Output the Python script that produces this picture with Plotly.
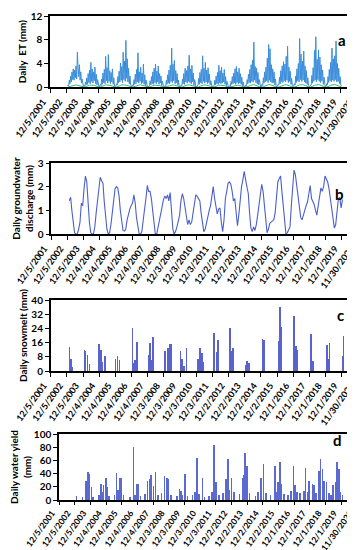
import pandas as pd
import plotly.graph_objects as go
from plotly.subplots import make_subplots

# ---------------- data ----------------
tick_labels = ["12/5/2001", "12/5/2002", "12/5/2003", "12/4/2004", "12/4/2005", "12/4/2006",
               "12/4/2007", "12/3/2008", "12/3/2009", "12/3/2010", "12/3/2011", "12/2/2012",
               "12/2/2013", "12/2/2014", "12/2/2015", "12/1/2016", "12/1/2017", "12/1/2018",
               "12/1/2019", "11/30/2020"]

# Daily ET (mm), semi-monthly readings 2003-2019 (24 per year)
et_values = [
    0.2,0.4,0.3,1.2,0.6,1.9,0.9,2.6,1.3,3.1,1.2,2.9,1.6,3.6,1.4,5.9,3.3,1.8,3.8,1.2,2.6,0.7,1.4,0.2,
    0.1,0.3,0.2,0.9,0.4,1.6,0.5,2.3,0.8,2.9,0.6,4.2,1.0,3.1,0.7,2.6,1.1,3.4,0.6,2.2,0.4,1.3,0.3,0.1,
    0.1,0.5,0.3,1.4,0.5,2.4,0.8,3.0,0.6,5.2,1.1,3.3,0.7,5.5,1.0,2.8,0.6,2.5,0.9,3.1,0.5,1.6,0.2,0.1,
    0.2,0.6,0.4,1.8,0.7,2.7,0.9,4.1,1.2,3.5,0.8,5.9,1.3,4.4,1.0,7.9,1.5,4.8,0.9,3.2,0.6,1.9,0.4,0.2,
    0.1,0.4,0.3,1.3,0.5,2.2,0.6,3.0,0.9,5.8,0.7,2.6,1.0,3.4,0.6,2.4,0.8,3.9,0.5,2.1,0.3,1.2,0.2,0.1,
    0.1,0.2,0.3,1.1,0.4,1.8,0.6,2.6,0.5,3.2,0.8,3.9,0.6,2.7,0.9,3.6,0.5,2.3,0.7,1.9,0.3,1.0,0.2,0.1,
    0.1,0.3,0.2,1.2,0.5,2.1,0.7,2.9,0.6,3.7,1.0,6.6,0.8,3.9,1.1,4.5,0.6,2.8,0.8,2.3,0.4,1.2,0.2,0.1,
    0.1,0.4,0.3,1.4,0.6,2.3,0.5,3.2,0.9,2.8,0.7,3.6,1.0,5.4,0.8,3.1,0.6,3.7,0.9,2.4,0.3,1.3,0.2,0.1,
    0.1,0.3,0.4,1.5,0.5,2.5,0.8,3.0,0.6,5.3,1.0,3.2,0.7,4.2,0.9,2.9,0.6,3.3,0.8,2.2,0.4,1.1,0.2,0.1,
    0.1,0.2,0.3,1.2,0.4,1.9,0.6,2.5,0.5,3.7,0.8,2.8,0.6,3.4,0.7,2.4,0.9,3.0,0.5,1.8,0.3,1.0,0.2,0.1,
    0.1,0.3,0.2,1.0,0.5,1.8,0.6,2.4,0.7,3.1,0.5,3.5,0.8,2.6,0.6,3.2,0.7,2.3,0.5,1.7,0.3,0.9,0.2,0.1,
    0.1,0.4,0.3,1.3,0.6,2.2,0.8,3.0,0.7,3.8,1.0,4.6,0.9,7.6,1.2,3.5,0.8,3.2,0.6,2.5,0.4,1.3,0.2,0.1,
    0.1,0.5,0.3,1.6,0.7,2.6,0.9,3.4,1.1,4.9,0.8,7.2,1.2,6.5,0.9,3.8,0.7,3.1,0.8,2.6,0.4,1.4,0.2,0.1,
    0.2,0.5,0.4,1.7,0.6,2.8,1.0,3.6,0.8,4.3,1.1,3.9,0.9,5.2,1.2,6.9,0.8,3.4,1.0,2.7,0.5,1.5,0.3,0.1,
    0.2,0.6,0.4,1.9,0.8,3.1,1.1,4.0,0.9,8.2,1.3,5.6,1.0,4.4,1.2,6.1,0.9,3.6,0.7,2.8,0.5,1.6,0.3,0.1,
    0.2,0.5,0.5,2.0,0.7,3.3,1.0,6.2,1.2,8.5,0.9,4.7,1.3,6.3,1.0,5.1,0.8,3.8,1.1,2.9,0.5,1.7,0.3,0.1,
    0.2,0.6,0.4,1.8,0.8,3.0,1.1,4.2,0.9,6.6,1.2,4.8,1.0,5.3,1.3,7.8,0.9,4.0,1.0,3.2,0.6,1.8,0.4,0.2,
]

# low green ET component, monthly 2003-2019
et_low_values = [
    0.05,0.1,0.2,0.3,0.35,0.4,0.4,0.35,0.3,0.2,0.1,0.05,
    0.05,0.1,0.2,0.3,0.35,0.35,0.4,0.35,0.3,0.2,0.1,0.05,
    0.05,0.1,0.2,0.3,0.4,0.4,0.4,0.35,0.3,0.2,0.1,0.05,
    0.05,0.1,0.25,0.3,0.4,0.45,0.4,0.35,0.3,0.2,0.1,0.05,
    0.05,0.1,0.2,0.3,0.35,0.4,0.4,0.35,0.3,0.2,0.1,0.05,
    0.05,0.1,0.2,0.3,0.35,0.35,0.35,0.3,0.3,0.2,0.1,0.05,
    0.05,0.1,0.2,0.3,0.35,0.4,0.4,0.35,0.3,0.2,0.1,0.05,
    0.05,0.1,0.2,0.3,0.35,0.4,0.4,0.35,0.3,0.2,0.1,0.05,
    0.05,0.1,0.2,0.3,0.35,0.4,0.4,0.35,0.3,0.2,0.1,0.05,
    0.05,0.1,0.2,0.3,0.35,0.35,0.35,0.3,0.3,0.2,0.1,0.05,
    0.05,0.1,0.2,0.3,0.35,0.35,0.35,0.3,0.3,0.2,0.1,0.05,
    0.05,0.1,0.2,0.3,0.4,0.4,0.45,0.4,0.3,0.2,0.1,0.05,
    0.05,0.1,0.2,0.3,0.4,0.45,0.45,0.4,0.3,0.2,0.1,0.05,
    0.05,0.1,0.2,0.3,0.4,0.4,0.45,0.4,0.3,0.2,0.1,0.05,
    0.05,0.1,0.25,0.3,0.4,0.45,0.45,0.4,0.3,0.2,0.1,0.05,
    0.05,0.1,0.25,0.3,0.4,0.45,0.45,0.4,0.3,0.2,0.1,0.05,
    0.05,0.1,0.2,0.3,0.4,0.45,0.45,0.4,0.3,0.2,0.1,0.05,
]

# Daily groundwater discharge (mm), monthly 2003-2019
gw_values = [
    1.4,1.55,1.0,0.4,0.05,0.0,0.0,0.2,0.5,1.3,1.2,1.9,
    2.45,2.2,1.3,0.5,0.05,0.0,0.0,0.3,0.9,1.5,2.0,2.4,
    2.25,2.15,1.4,0.7,0.2,0.0,0.05,0.4,0.8,1.4,1.9,2.0,
    1.95,1.6,1.0,0.5,0.15,0.12,0.2,0.6,0.9,1.05,1.2,1.3,
    1.65,1.3,0.7,0.3,0.0,0.0,0.1,0.6,1.0,1.5,2.05,1.8,
    1.8,1.5,1.0,0.5,0.0,0.0,0.3,0.7,0.95,1.3,1.45,1.6,
    1.5,1.65,1.4,1.75,1.0,0.2,0.0,0.1,0.3,0.5,0.8,1.4,
    1.7,1.5,1.2,0.7,0.4,0.6,0.4,0.5,0.9,1.3,1.65,1.6,
    1.5,1.4,0.9,0.4,0.1,0.2,0.5,0.7,1.0,1.2,1.6,2.0,
    1.5,1.1,0.85,1.05,1.1,0.5,0.1,0.6,1.5,1.8,2.15,2.2,
    2.1,1.8,1.4,1.5,0.9,0.35,0.8,1.5,2.0,2.3,2.65,2.3,
    2.0,1.7,0.9,0.25,0.1,0.3,0.15,0.4,0.8,1.2,1.7,2.1,
    1.8,1.25,0.5,0.05,0.2,0.45,0.5,0.55,0.6,0.9,1.6,2.2,
    2.35,2.45,1.8,1.1,0.5,0.0,0.05,0.15,0.3,1.2,2.2,2.7,
    2.5,2.0,1.5,1.0,0.7,0.6,0.85,1.0,1.2,1.35,1.7,2.05,
    1.5,1.35,1.25,1.0,0.8,1.2,1.6,1.95,1.8,2.0,2.45,2.3,
    2.2,1.9,1.5,1.2,0.6,0.25,0.4,1.0,1.5,1.55,1.1,1.45,
]

# Daily snowmelt (mm) events
sm_dates = ["2003-01-22","2003-02-24","2003-03-20",
            "2003-12-27","2004-01-26","2004-03-13","2004-04-19",
            "2004-11-24","2005-01-07","2005-02-10","2005-04-07",
            "2005-12-05","2006-01-18","2006-03-05",
            "2006-12-16","2007-01-14","2007-02-16","2007-03-25",
            "2007-12-12","2008-01-18","2008-02-20","2008-03-20",
            "2008-12-24","2009-02-24","2009-04-15","2009-05-15",
            "2009-12-05","2010-01-04","2010-02-20","2010-04-19",
            "2011-01-01","2011-02-14","2011-04-03","2011-05-08",
            "2011-12-27","2012-03-05","2012-03-27",
            "2012-12-24","2013-01-22","2013-03-10",
            "2013-12-19","2014-01-17","2014-03-05",
            "2014-12-31","2015-01-29",
            "2015-12-27","2016-01-25","2016-02-16",
            "2016-12-16","2017-01-22","2017-02-20",
            "2018-01-01","2018-02-16",
            "2018-12-24","2019-01-20","2019-02-16",
            "2019-12-12","2020-01-01"]
sm_values = [13.8,6.6,2.5,
             12,11,9,4,
             15,12,5,8.5,
             7,8.5,6,
             24,4.5,6,16.5,
             8.8,16,6,19,
             11,13,15,15,
             11,7,3,13,
             7,12.7,10,5,
             21.5,10.5,17.5,
             24,11,13,
             3.5,5.7,4.3,
             18,17.3,
             16.7,36,24.6,
             31,14,12,
             21,5.7,
             14.5,7,15.7,
             8.7,20]

# Daily water yield (mm) events
wy_dates = ["2003-01-11","2003-06-10","2003-08-28","2003-09-15","2003-10-08","2003-11-17","2003-12-27",
            "2004-02-10","2004-06-20","2004-08-13","2004-09-10","2004-10-07","2004-12-08",
            "2005-01-01","2005-02-15","2005-06-20","2005-08-04","2005-09-10","2005-10-12","2005-11-21",
            "2006-01-10","2006-06-10","2006-09-03","2006-10-10","2006-11-26","2006-12-13",
            "2007-02-10","2007-06-01","2007-07-31","2007-09-09","2007-10-19","2007-12-10",
            "2008-02-03","2008-04-01","2008-06-20","2008-08-22","2008-10-23","2008-11-24",
            "2009-01-20","2009-06-15","2009-08-07","2009-09-15","2009-10-20","2009-12-16",
            "2010-02-10","2010-06-10","2010-08-10","2010-09-20","2010-11-01",
            "2011-01-30","2011-03-20","2011-07-01","2011-09-10","2011-10-27","2011-12-05",
            "2012-02-10","2012-05-15","2012-07-24","2012-09-16","2012-10-20","2012-12-02",
            "2013-02-01","2013-06-01","2013-08-14","2013-09-23","2013-10-08","2013-11-24",
            "2014-01-20","2014-06-10","2014-08-15","2014-10-15","2014-12-16",
            "2015-02-10","2015-06-01","2015-09-13","2015-10-15","2015-11-21",
            "2016-01-07","2016-02-06","2016-04-01","2016-07-10","2016-09-20","2016-11-10","2016-12-13",
            "2017-02-01","2017-04-15","2017-07-16","2017-08-25","2017-10-01","2017-11-10",
            "2018-01-26","2018-03-05","2018-04-20","2018-06-28","2018-08-07","2018-09-16","2018-10-23","2018-12-24",
            "2019-02-15","2019-04-10","2019-05-27","2019-07-20","2019-08-28","2019-10-08","2019-11-10","2019-12-24"]
wy_values = [6,4,29,10,43,40,19,
             5,8,24,12,22,33,
             19,6,7,41,15,34,34,
             8,5,80,8,24,25,
             6,9,29,32,38,21,
             43,8,10,37,33,32,
             8,6,17,14,8,39,
             6,7,12,64,9,
             33,5,6,12,84,27,
             7,10,32,62,15,34,
             12,9,34,38,71,52,
             10,6,12,34,54,
             10,8,52,12,27,
             57,24,9,8,14,52,23,
             12,10,14,49,12,29,
             24,22,10,44,62,47,29,27,
             10,8,22,28,58,47,12,7]

# ---------------- figure ----------------
W, H = 355, 550
tick_dates = pd.to_datetime(tick_labels, format="%m/%d/%Y")
x_end = tick_dates[-1] + pd.Timedelta(hours=12)
et_dates = pd.date_range("2003-01-01", periods=len(et_values), freq="SMS")
et_low_dates = pd.date_range("2003-01-01", periods=len(et_low_values), freq="MS") + pd.Timedelta(days=14)
gw_dates = pd.date_range("2003-01-01", periods=len(gw_values), freq="MS") + pd.Timedelta(days=14)

fig = make_subplots(rows=4, cols=1)

fig.add_trace(go.Scatter(x=et_dates, y=et_values, mode="lines",
                         line=dict(color="#3a8ddb", width=1)), row=1, col=1)
fig.add_trace(go.Scatter(x=et_low_dates, y=et_low_values, mode="lines",
                         line=dict(color="#22c07a", width=1)), row=1, col=1)
fig.add_trace(go.Scatter(x=gw_dates, y=gw_values, mode="lines",
                         line=dict(color="#4b5fcc", width=1.1)), row=2, col=1)
bar_w = 12 * 86400000
fig.add_trace(go.Bar(x=pd.to_datetime(sm_dates), y=sm_values, width=bar_w,
                     marker=dict(color="#5a62cc", line=dict(width=0))), row=3, col=1)
fig.add_trace(go.Bar(x=pd.to_datetime(wy_dates), y=wy_values, width=bar_w,
                     marker=dict(color="#5a6ad2", line=dict(width=0))), row=4, col=1)

# panel geometry in pixels: (left, right, top, bottom)
panels = [(42, 349, 8, 79.3), (43.3, 350, 155, 226), (42.7, 350, 292, 363), (51, 349, 426, 492)]
yranges = [[0, 12], [0, 3], [0, 40], [0, 100]]
ydtick = [4, 1, 8, 20]
ytitles = ["Daily  ET (mm)", "Daily groundwater<br>discharge (mm)", "Daily snowmelt (mm)",
           "Daily water yield<br>(mm)"]
xfont_sizes = [9, 9, 9, 8.5]
bold = dict(family="Lato", size=10, color="black", weight="bold")

for i, (l, r, t, b) in enumerate(panels):
    n = "" if i == 0 else str(i + 1)
    xbold = dict(family="Lato", size=xfont_sizes[i], color="black", weight="bold")
    fig.layout["xaxis" + n].update(
        domain=[l / W, r / W], range=[tick_dates[0], x_end], automargin=False,
        tickvals=tick_dates, ticktext=tick_labels, tickangle=-54, tickfont=xbold,
        ticklabeloverflow="allow", ticklabelshift=-7,
        showline=True, linecolor="black", linewidth=1.5, mirror=True,
        ticks="outside", ticklen=4 if i < 3 else 3, tickcolor="black",
        showgrid=False, zeroline=False)
    fig.layout["yaxis" + n].update(
        domain=[1 - b / H, 1 - t / H], range=yranges[i], dtick=ydtick[i], tick0=0,
        automargin=False,
        tickfont=bold, showline=True, linecolor="black", linewidth=1.5, mirror=True,
        ticks="outside", ticklen=4, tickcolor="black", showgrid=False, zeroline=False,
        title=dict(text=ytitles[i], font=bold, standoff=2))

letters = [("a", 340, 21), ("b", 338, 175), ("c", 338, 307), ("d", 336, 443)]
for txt, x, y in letters:
    fig.add_annotation(text=txt, x=x / W, y=1 - y / H, xref="paper", yref="paper",
                       showarrow=False, font=dict(family="Lato", size=15, color="black", weight="bold"))

fig.update_layout(width=W, height=H, margin=dict(l=0, r=0, t=0, b=0, autoexpand=False),
                  paper_bgcolor="white", plot_bgcolor="white", showlegend=False, bargap=0)

fig.write_html("out.html")
